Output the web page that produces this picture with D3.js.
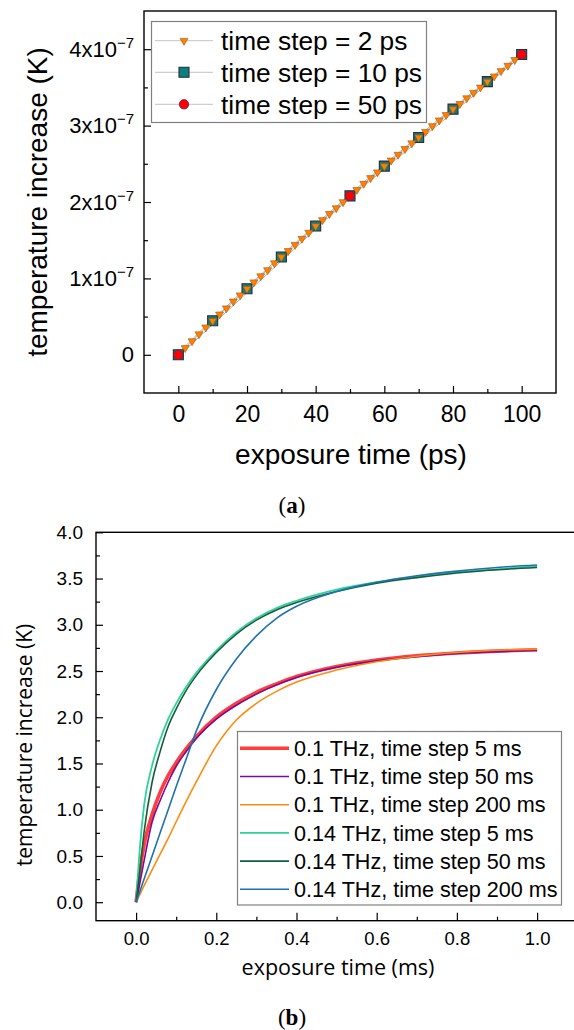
<!DOCTYPE html>
<html>
<head>
<meta charset="utf-8">
<script src="https://cdn.jsdelivr.net/npm/d3@7"></script>
<style>
  body { margin: 0; background: #fff; }
  svg { display: block; }
</style>
</head>
<body>
<svg id="fig"></svg>
<script>
// ---- panel (a) data, temperature in units of 1e-7 K ----
const psTime2 = [0, 2, 4, 6, 8, 10, 12, 14, 16, 18, 20, 22, 24, 26, 28, 30, 32, 34, 36, 38, 40,
    42, 44, 46, 48, 50, 52, 54, 56, 58, 60, 62, 64, 66, 68, 70, 72, 74, 76, 78, 80,
    82, 84, 86, 88, 90, 92, 94, 96, 98, 100];
const psTemp2 = [0, 0.09, 0.18, 0.27, 0.36, 0.445, 0.53, 0.61, 0.70, 0.78, 0.865, 0.95, 1.03, 1.11, 1.20, 1.28,
    1.36, 1.44, 1.52, 1.60, 1.685, 1.765, 1.845, 1.92, 2.0, 2.08, 2.16, 2.24, 2.315, 2.39, 2.47,
    2.545, 2.62, 2.695, 2.77, 2.845, 2.92, 2.995, 3.07, 3.14, 3.215, 3.285, 3.36, 3.43, 3.50, 3.575,
    3.645, 3.715, 3.785, 3.86, 3.93];
const psTime10 = [0, 10, 20, 30, 40, 50, 60, 70, 80, 90, 100];
const psTemp10 = [0, 0.445, 0.865, 1.28, 1.685, 2.08, 2.47, 2.845, 3.215, 3.575, 3.93];
const psTime50 = [0, 50, 100];
const psTemp50 = [0, 2.08, 3.93];
const aLabels = ['time step = 2 ps', 'time step = 10 ps', 'time step = 50 ps'];
const aXTicks = [0, 20, 40, 60, 80, 100];
const aYTicks = [0, 1, 2, 3, 4];

// ---- panel (b) data ----
const msTime = [0, 0.01, 0.02, 0.04, 0.06, 0.08, 0.1, 0.125, 0.15, 0.2, 0.25, 0.3, 0.35, 0.4,
    0.5, 0.6, 0.7, 0.8, 0.9, 1.0];
const thz01_5 = [0, 0.36, 0.62, 0.95, 1.19, 1.37, 1.51, 1.66, 1.79, 2.0, 2.15, 2.27, 2.36, 2.44,
    2.55, 2.62, 2.665, 2.695, 2.715, 2.73];
const thz01_50 = [0, 0.22, 0.45, 0.87, 1.1, 1.3, 1.47, 1.63, 1.77, 1.98, 2.13, 2.25, 2.35, 2.43,
    2.54, 2.61, 2.655, 2.69, 2.71, 2.723];
const thz01_200 = [0, 0.09, 0.18, 0.35, 0.52, 0.69, 0.87, 1.09, 1.3, 1.69, 1.97, 2.15, 2.28, 2.38,
    2.51, 2.6, 2.66, 2.70, 2.725, 2.737];
const thz014_5 = [0, 0.62, 1.05, 1.48, 1.76, 1.98, 2.15, 2.33, 2.48, 2.72, 2.92, 3.07, 3.18, 3.26,
    3.38, 3.46, 3.52, 3.57, 3.60, 3.635];
const thz014_50 = [0, 0.36, 0.76, 1.3, 1.63, 1.9, 2.09, 2.29, 2.45, 2.7, 2.9, 3.05, 3.16, 3.24,
    3.36, 3.45, 3.51, 3.56, 3.595, 3.62];
const thz014_200 = [0, 0.125, 0.25, 0.5, 0.75, 1.0, 1.25, 1.55, 1.85, 2.3, 2.63, 2.88, 3.07, 3.2,
    3.36, 3.46, 3.53, 3.58, 3.62, 3.646];
const bLabels = ['0.1 THz, time step 5 ms', '0.1 THz, time step 50 ms', '0.1 THz, time step 200 ms',
    '0.14 THz, time step 5 ms', '0.14 THz, time step 50 ms', '0.14 THz, time step 200 ms'];
const bColors = ['#ff3d3d', '#7a0a9a', '#ff8a10', '#2ed39c', '#175c3a', '#1f72b0'];
const bWidths = [3.6, 1.6, 1.6, 1.8, 1.6, 1.6];
const bXTicks = [0, 0.2, 0.4, 0.6, 0.8, 1.0];
const bYTicks = [0, 0.5, 1.0, 1.5, 2.0, 2.5, 3.0, 3.5, 4.0];

const svg = d3.select('#fig').attr('width', 574).attr('height', 1030);
const arial = 'Liberation Sans, Arial, sans-serif';

function styleAxis(g) {
    g.select('.domain').remove();
    g.selectAll('line').attr('stroke', '#000').attr('stroke-width', 1.2);
}

// ================= panel (a) =================
const ax = d3.scaleLinear().domain([-10, 110]).range([144, 556]);
const ay = d3.scaleLinear().domain([-0.5, 4.5]).range([393, 11]);

const ga = svg.append('g');

ga.append('g').attr('transform', 'translate(0,393)')
    .call(d3.axisBottom(ax).tickValues([10, 30, 50, 70, 90]).tickSize(-4).tickFormat(''))
    .call(styleAxis);
ga.append('g').attr('transform', 'translate(0,393)')
    .call(d3.axisBottom(ax).tickValues(aXTicks).tickSize(-7).tickPadding(13))
    .call(styleAxis)
    .selectAll('text').attr('font-family', arial).attr('font-size', 23).attr('fill', '#000');

ga.append('g').attr('transform', 'translate(144,0)')
    .call(d3.axisLeft(ay).tickValues([0.5, 1.5, 2.5, 3.5]).tickSize(-4).tickFormat(''))
    .call(styleAxis);
const ayAxis = ga.append('g').attr('transform', 'translate(144,0)')
    .call(d3.axisLeft(ay).tickValues(aYTicks).tickSize(-7).tickPadding(10))
    .call(styleAxis);
ayAxis.selectAll('text')
    .attr('font-family', arial).attr('font-size', 22).attr('fill', '#000')
    .each(function (d) {
        const t = d3.select(this).text('');
        if (d === 0) { t.text('0'); return; }
        t.append('tspan').text(d + 'x10');
        t.append('tspan').attr('font-size', 15).attr('dy', -9).text('\u22127');
    });

ga.append('rect').attr('x', 144).attr('y', 11).attr('width', 412).attr('height', 382)
    .attr('fill', 'none').attr('stroke', '#000').attr('stroke-width', 1.4);

const aLine = d3.line().x(d => ax(d[0])).y(d => ay(d[1]));
const s2 = psTime2.map((t, i) => [t, psTemp2[i]]);
const s10 = psTime10.map((t, i) => [t, psTemp10[i]]);
const s50 = psTime50.map((t, i) => [t, psTemp50[i]]);
[s2, s10, s50].forEach((s, k) => {
    ga.append('path').datum(s).attr('d', aLine)
        .attr('fill', 'none').attr('stroke', '#9a9a9a').attr('stroke-width', 0.8)
        .attr('transform', `translate(${k - 1},${(k - 1) * 0.6})`);
});

const tri = d3.symbol().type(d3.symbolTriangle).size(28);
const sq = d3.symbol().type(d3.symbolSquare).size(100);
const circ = d3.symbol().type(d3.symbolCircle).size(70);

function drawSquare(sel) {
    sel.attr('d', sq).attr('fill', '#0b7f7d').attr('stroke', '#2a2a3a').attr('stroke-width', 1.1);
}
function drawTri(sel) {
    sel.attr('d', tri).attr('fill', '#ff8000').attr('stroke', '#a9580b').attr('stroke-width', 0.6);
}
function drawCirc(sel) {
    sel.attr('d', circ).attr('fill', '#ff0000').attr('stroke', '#4a2a6a').attr('stroke-width', 0.8);
}

ga.selectAll('.sq').data(s10).enter().append('path').attr('class', 'sq')
    .attr('transform', d => `translate(${ax(d[0])},${ay(d[1])})`).call(drawSquare);
ga.selectAll('.tri').data(s2).enter().append('path').attr('class', 'tri')
    .attr('transform', d => `translate(${ax(d[0])},${ay(d[1])}) rotate(180)`).call(drawTri);
ga.selectAll('.ci').data(s50).enter().append('path').attr('class', 'ci')
    .attr('transform', d => `translate(${ax(d[0])},${ay(d[1])})`).call(drawCirc);

// legend (a)
ga.append('rect').attr('x', 151.5).attr('y', 21.5).attr('width', 275).attr('height', 101)
    .attr('fill', '#fff').attr('stroke', '#808080').attr('stroke-width', 1.2);
const aRows = [40.7, 72.3, 104.3];
const aDraw = [drawTri, drawSquare, drawCirc];
aLabels.forEach((lab, i) => {
    const y = aRows[i];
    ga.append('line').attr('x1', 155).attr('x2', 213).attr('y1', y).attr('y2', y)
        .attr('stroke', '#c4c4c4').attr('stroke-width', 1);
    ga.append('path').attr('transform', `translate(184,${y})` + (i === 0 ? ' rotate(180)' : ''))
        .call(aDraw[i]);
    ga.append('text').attr('x', 221).attr('y', y).attr('dy', '0.36em')
        .attr('font-family', arial).attr('font-size', 26.3).text(lab);
});

ga.append('text').attr('x', 351).attr('y', 464).attr('text-anchor', 'middle')
    .attr('font-family', arial).attr('font-size', 28).text('exposure time (ps)');
ga.append('text').attr('transform', 'translate(47,202) rotate(-90)').attr('text-anchor', 'middle')
    .attr('font-family', arial).attr('font-size', 28).text('temperature increase (K)');

svg.append('text').attr('x', 292).attr('y', 513).attr('text-anchor', 'middle')
    .attr('font-family', 'Liberation Serif, serif').attr('font-size', 23)
    .html('(<tspan font-weight="bold">a</tspan>)');

// ================= panel (b) =================
const bx = d3.scaleLinear().domain([-0.1, 1.1]).range([96, 577.2]);
const by = d3.scaleLinear().domain([-0.2, 4.0]).range([920.7, 532.3]);
const gb = svg.append('g');

gb.append('g').attr('transform', 'translate(0,920.7)')
    .call(d3.axisBottom(bx).tickValues([0.1, 0.3, 0.5, 0.7, 0.9]).tickSize(-4).tickFormat(''))
    .call(styleAxis);
gb.append('g').attr('transform', 'translate(0,920.7)')
    .call(d3.axisBottom(bx).tickValues(bXTicks).tickSize(-8).tickPadding(11).tickFormat(d3.format('.1f')))
    .call(styleAxis)
    .selectAll('text').attr('font-family', arial).attr('font-size', 18.5).attr('fill', '#000');

gb.append('g').attr('transform', 'translate(96,0)')
    .call(d3.axisLeft(by).tickValues([0.25, 0.75, 1.25, 1.75, 2.25, 2.75, 3.25, 3.75]).tickSize(-4).tickFormat(''))
    .call(styleAxis);
gb.append('g').attr('transform', 'translate(96,0)')
    .call(d3.axisLeft(by).tickValues(bYTicks).tickSize(-7).tickPadding(13).tickFormat(d3.format('.1f')))
    .call(styleAxis)
    .selectAll('text').attr('font-family', arial).attr('font-size', 19).attr('fill', '#000');

gb.append('rect').attr('x', 96).attr('y', 532.3).attr('width', 481.2).attr('height', 388.4)
    .attr('fill', 'none').attr('stroke', '#000').attr('stroke-width', 1.4);

const bLine = d3.line().x(d => bx(d[0])).y(d => by(d[1])).curve(d3.curveMonotoneX);
const bSeries = [thz01_5, thz01_50, thz01_200, thz014_5, thz014_50, thz014_200];
bSeries.forEach((vals, i) => {
    gb.append('path').datum(msTime.map((t, j) => [t, vals[j]])).attr('d', bLine)
        .attr('fill', 'none').attr('stroke', bColors[i]).attr('stroke-width', bWidths[i]);
});

// legend (b)
gb.append('rect').attr('x', 237.5).attr('y', 731.5).attr('width', 324).attr('height', 173.5)
    .attr('fill', '#fff').attr('stroke', '#808080').attr('stroke-width', 1.2);
bLabels.forEach((lab, i) => {
    const y = 748.3 + i * 28.2;
    gb.append('line').attr('x1', 240).attr('x2', 289).attr('y1', y).attr('y2', y)
        .attr('stroke', bColors[i]).attr('stroke-width', bWidths[i]);
    gb.append('text').attr('x', 294).attr('y', y).attr('dy', '0.36em')
        .attr('font-family', arial).attr('font-size', 21.6).text(lab);
});

gb.append('text').attr('x', 338).attr('y', 975).attr('text-anchor', 'middle')
    .attr('font-family', 'Open Sans, sans-serif').attr('font-size', 21.5).text('exposure time (ms)');
gb.append('text').attr('transform', 'translate(32,745) rotate(-90)').attr('text-anchor', 'middle')
    .attr('font-family', 'Open Sans, sans-serif').attr('font-size', 21).text('temperature increase (K)');

svg.append('text').attr('x', 292).attr('y', 1025).attr('text-anchor', 'middle')
    .attr('font-family', 'Liberation Serif, serif').attr('font-size', 23)
    .html('(<tspan font-weight="bold">b</tspan>)');
</script>
</body>
</html>
